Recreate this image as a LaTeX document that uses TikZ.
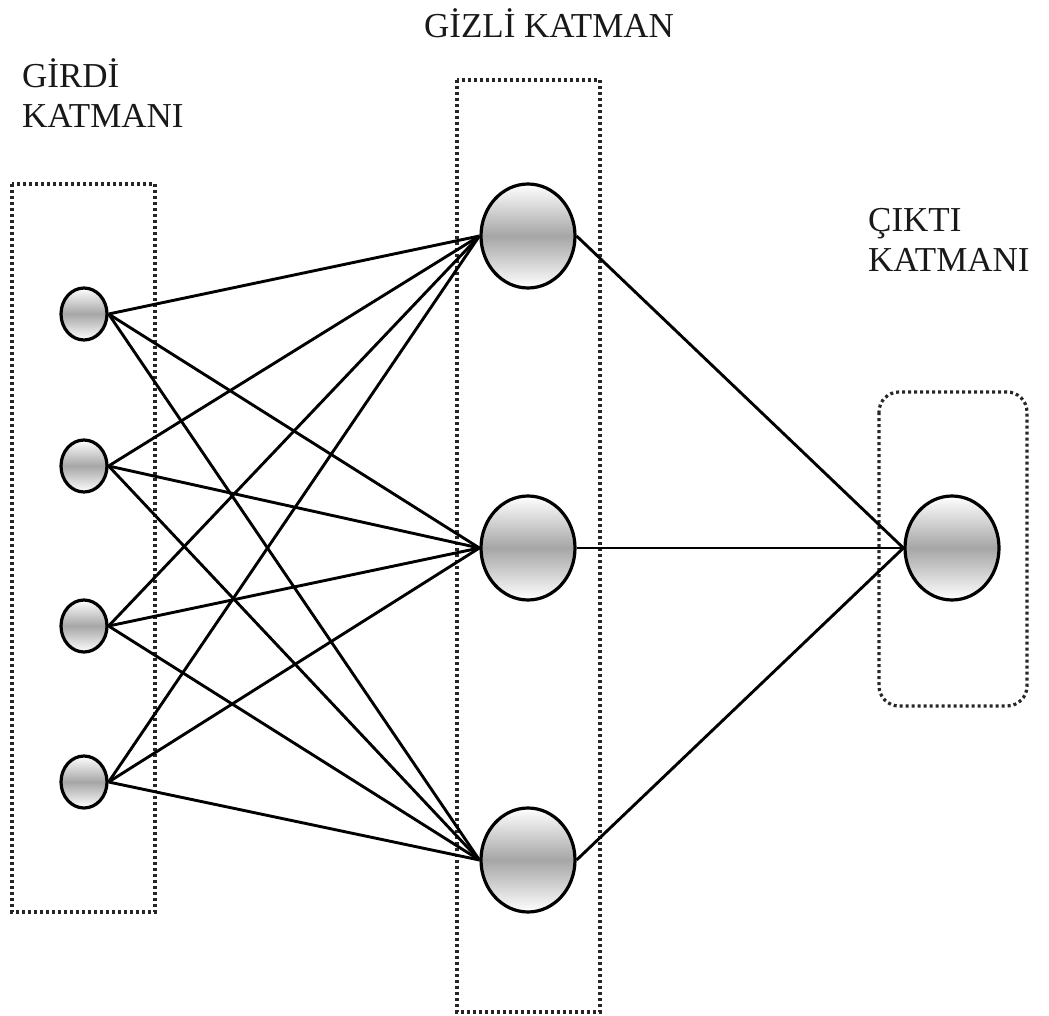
\documentclass[tikz,border=0pt]{standalone}
\usepackage{fontspec}
\setmainfont{Liberation Serif}
\usetikzlibrary{shapes.geometric}
\begin{document}
\begin{tikzpicture}[x=1pt,y=-1pt,
  neuron/.style={ellipse, draw=black, line width=3.2pt, inner sep=0pt,
     top color=white, bottom color=white, middle color=black!35},
  inp/.style={neuron, minimum width=46pt, minimum height=52pt},
  big/.style={neuron, minimum width=94pt, minimum height=104pt},
  layerbox/.style={draw=black!85, line width=3.2pt, dash pattern=on 3pt off 3pt},
  conn/.style={line width=2.9pt, black},
  lbl/.style={font=\fontsize{35}{40}\selectfont, inner sep=0pt, align=left, text=black!90}
]
\useasboundingbox (0,0) rectangle (1049,1016);
% boxes
\draw[layerbox] (12,184) rectangle (155,912);
\draw[layerbox] (457,80) rectangle (600,1012);
\draw[layerbox, rounded corners=20pt] (879,392) rectangle (1027,706);
% labels
\node[lbl, anchor=base] (lh) at (549,38) {GİZLİ KATMAN};
\node[lbl, anchor=base west] (li1) at (22,88) {GİRDİ};
\node[lbl, anchor=base west] (li2) at (22,128) {KATMANI};
\node[lbl, anchor=base west] (lo1) at (868,232) {ÇIKTI};
\node[lbl, anchor=base west] (lo2) at (868,272) {KATMANI};
% neurons
\node[inp] (i1) at (84,314) {};
\node[inp] (i2) at (84,466) {};
\node[inp] (i3) at (84,626) {};
\node[inp] (i4) at (84,782) {};
\node[big] (h1) at (528,236) {};
\node[big] (h2) at (528,548) {};
\node[big] (h3) at (528,860) {};
\node[big] (o) at (952,548) {};
% connections
\foreach \i in {i1,i2,i3,i4}{
  \foreach \h in {h1,h2,h3}{
    \draw[conn] (\i.east) -- (\h.west);
  }
}
\foreach \h in {h1,h2,h3}{
  \draw[conn] (\h.east) -- (o.west);
}
\end{tikzpicture}
\end{document}
